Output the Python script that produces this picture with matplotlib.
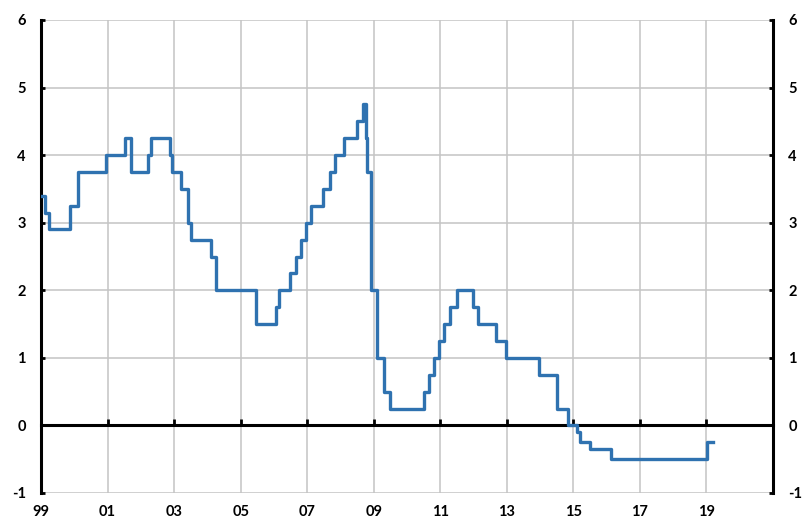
import numpy as np
import matplotlib.pyplot as plt

# repo rate decisions: (year, month, day), level in percent
change_dates = [
    (1999, 1, 1), (1999, 2, 17), (1999, 3, 31), (1999, 11, 17), (2000, 2, 9),
    (2000, 12, 13), (2001, 7, 6), (2001, 9, 17), (2002, 3, 19), (2002, 4, 26),
    (2002, 11, 15), (2002, 12, 5), (2003, 3, 17), (2003, 6, 5), (2003, 7, 4),
    (2004, 2, 6), (2004, 3, 31), (2005, 6, 21), (2006, 1, 20), (2006, 2, 27),
    (2006, 6, 20), (2006, 9, 5), (2006, 10, 27), (2006, 12, 15), (2007, 2, 15),
    (2007, 6, 20), (2007, 9, 7), (2007, 10, 30), (2008, 2, 13), (2008, 7, 3),
    (2008, 9, 4), (2008, 10, 8), (2008, 10, 23), (2008, 12, 4), (2009, 2, 11),
    (2009, 4, 21), (2009, 7, 2), (2010, 7, 1), (2010, 8, 25), (2010, 10, 26),
    (2010, 12, 15), (2011, 2, 15), (2011, 4, 20), (2011, 7, 5), (2011, 12, 20),
    (2012, 2, 15), (2012, 9, 6), (2012, 12, 17), (2013, 12, 17), (2014, 7, 3),
    (2014, 10, 28), (2015, 2, 12), (2015, 3, 18), (2015, 7, 2), (2016, 2, 17),
    (2019, 1, 9), (2019, 3, 10),
]
rates = [
    3.40, 3.15, 2.90, 3.25, 3.75,
    4.00, 4.25, 3.75, 4.00, 4.25,
    4.00, 3.75, 3.50, 3.00, 2.75,
    2.50, 2.00, 1.50, 1.75, 2.00,
    2.25, 2.50, 2.75, 3.00, 3.25,
    3.50, 3.75, 4.00, 4.25, 4.50,
    4.75, 4.25, 3.75, 2.00, 1.00,
    0.50, 0.25, 0.50, 0.75, 1.00,
    1.25, 1.50, 1.75, 2.00, 1.75,
    1.50, 1.25, 1.00, 0.75, 0.25,
    0.00, -0.10, -0.25, -0.35, -0.50,
    -0.25, -0.25,
]
x_tick_labels = ["99", "01", "03", "05", "07", "09", "11", "13", "15", "17", "19"]
y_ticks = [-1, 0, 1, 2, 3, 4, 5, 6]

t = np.array([y + (m - 1) / 12 + (d - 1) / 365 for y, m, d in change_dates])
r = np.array(rates)

plt.rcParams['font.family'] = ['Lato', 'DejaVu Sans']
plt.rcParams['axes.unicode_minus'] = False

fig = plt.figure(figsize=(8.03, 5.21), dpi=100)
ax = fig.add_axes([41 / 803, 1 - 493 / 521, (773 - 41) / 803, (493 - 20) / 521])

ax.step(t, r, where='post', color='#2f72b0', lw=2.4, zorder=4)

ax.set_xlim(1999, 2021)
ax.set_ylim(-1, 6)
ax.set_xticks(np.arange(1999, 2020, 2))
ax.set_xticklabels(x_tick_labels)
ax.set_yticks(y_ticks)

ax.grid(True, color='#c4c4c4', lw=1.1, zorder=0)
ax.set_axisbelow(True)

for side in ['top', 'bottom']:
    ax.spines[side].set_visible(False)
for side in ['left', 'right']:
    ax.spines[side].set_linewidth(2.2)
    ax.spines[side].set_color('black')

ax.tick_params(axis='x', length=0, pad=9, labelsize=10.5)
ax.tick_params(axis='y', direction='in', length=3, width=2, labelsize=10.5,
               left=True, right=True, labelleft=True, labelright=True, pad=11)
for lab in ax.get_xticklabels() + ax.get_yticklabels():
    lab.set_fontweight('bold')
for tk in ax.yaxis.get_major_ticks():
    tk.label2.set_fontweight('bold')

# zero line with small tick marks
zero = ax.secondary_xaxis(1 / 7)
zero.set_xticks(np.arange(2001, 2020, 2))
zero.set_xticklabels([])
zero.spines['bottom'].set_linewidth(2.2)
zero.tick_params(direction='in', length=4, width=2, color='black')
zero.set_zorder(3)

fig.savefig('out.png', dpi=100)
